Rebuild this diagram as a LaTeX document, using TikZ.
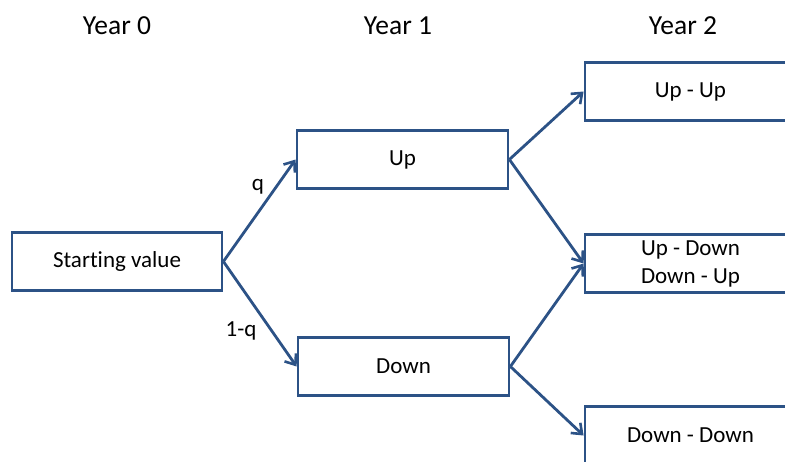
\documentclass[tikz,border=0pt]{standalone}
\usepackage{fontspec}
\setmainfont{Carlito}[Ligatures=NoCommon]
\usetikzlibrary{arrows.meta}
\definecolor{trblue}{HTML}{2C5286}

\begin{document}
\begin{tikzpicture}[
  x=1pt, y=-1pt,
  state/.style = {rectangle, draw=trblue, line width=2.8pt, fill=white,
                  minimum width=211pt, minimum height=58pt, align=center,
                  font=\fontsize{23}{28}\selectfont, inner sep=0pt},
  year/.style  = {font=\fontsize{27.5}{32}\selectfont},
  prob/.style  = {font=\fontsize{23}{26}\selectfont},
  move/.style  = {-{Straight Barb[length=9pt,width=14pt,line width=2.6pt]},
                  draw=trblue, line width=2.8pt},
]
\useasboundingbox (0,0) rectangle (785,461);
\clip (0,0) rectangle (785,461);
% columns
\node[year] (y0) at (117,26) {Year 0};
\node[year] (y1) at (398,26) {Year 1};
\node[year] (y2) at (683,26) {Year 2};
% tree
\node[state, minimum width=210pt] (start) at (117,261.5) {Starting value};
\node[state] (up)       at (402.5,159.5) {Up};
\node[state] (down)     at (403.5,366.5) {Down};
\node[state] (upup)     at (690.5,91.5)  {Up - Up};
\node[state] (updown)   at (690.5,263.5) {Up - Down\\Down - Up};
\node[state] (downdown) at (690.5,435.5) {Down - Down};
\draw[move] (start.east) -- (up.west);
\draw[move] (start.east) -- (down.west);
\draw[move] (up.east) -- (upup.west);
\draw[move] (up.east) -- (updown.west);
\draw[move] (down.east) -- (updown.west);
\draw[move] (down.east) -- (downdown.west);
\node[prob] (pu) at (258,187) {q};
\node[prob] (pd) at (241,331) {1-q};
\end{tikzpicture}
\end{document}
